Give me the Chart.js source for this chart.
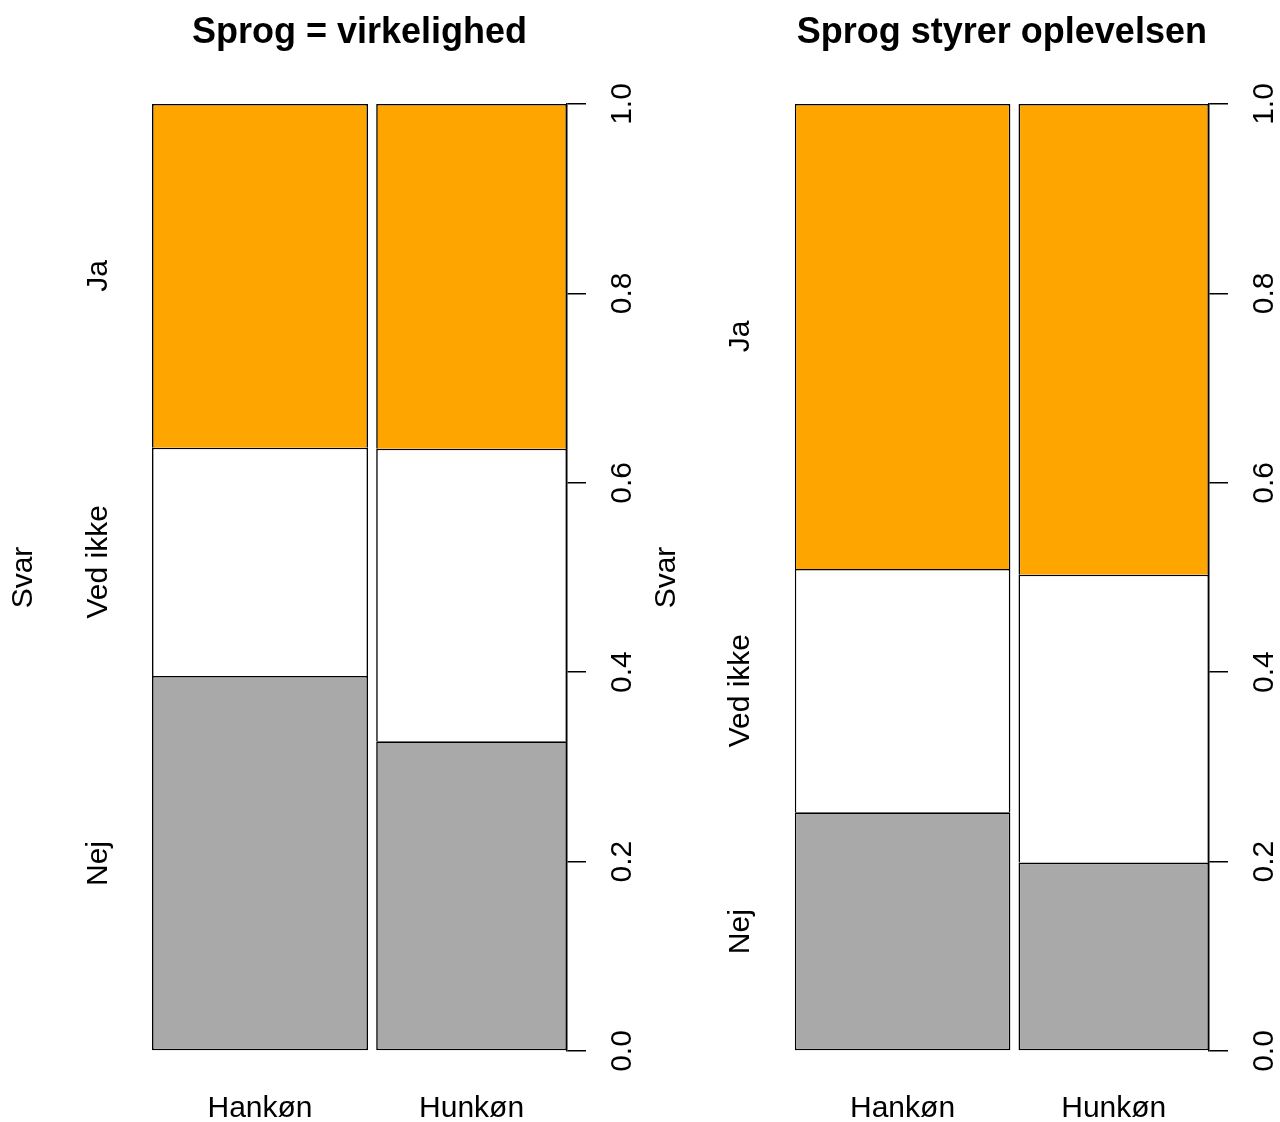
<!DOCTYPE html>
<html lang="da">
<head>
<meta charset="UTF-8">
<title>Sprog og virkelighed</title>
<script src="https://cdn.jsdelivr.net/npm/chart.js@4"></script>
<style>
  html, body { margin: 0; padding: 0; background: #fff; }
  .panel { position: absolute; top: 0; width: 640px; height: 1122px; }
</style>
</head>
<body>
<div class="panel" style="left:0"><canvas id="venstre" width="640" height="1122"></canvas></div>
<div class="panel" style="left:640px"><canvas id="hoejre" width="640" height="1122"></canvas></div>
<script>
const genders = ['Hankøn', 'Hunkøn'];
const answers = ['Nej', 'Ved ikke', 'Ja'];
const genderShare = [0.531, 0.469];   // bar widths (share of respondents)
const barGap = 0.02;
const yTicks = [0, 0.2, 0.4, 0.6, 0.8, 1.0];

// andel pr. svar, [Hankøn, Hunkøn]
const nejVirkelighed = [0.396, 0.327];
const vedIkkeVirkelighed = [0.241, 0.309];
const jaVirkelighed = [0.363, 0.364];

const nejOplevelse = [0.252, 0.199];
const vedIkkeOplevelse = [0.257, 0.304];
const jaOplevelse = [0.491, 0.497];

const colors = ['#A9A9A9', '#FFFFFF', '#FFA500'];
const FONT = "'Liberation Sans', Arial, Helvetica, sans-serif";
const tickFont = { family: FONT, size: 30 };

function makeChart(id, title, series, padLeft, rightWidth) {
    const centers = [genderShare[0] / 2, genderShare[0] + barGap + genderShare[1] / 2];
    const step = centers[1] - centers[0];

    const datasets = [];
    genders.forEach((g, gi) => {
        series.forEach((vals, si) => {
            datasets.push({
                label: answers[si] + ' ' + g,
                data: [{ x: centers[gi], y: vals[gi] }],
                backgroundColor: colors[si],
                borderColor: '#000',
                borderWidth: 1.6,
                borderSkipped: si === 0 ? false : 'start',
                barPercentage: genderShare[gi] / step,
                categoryPercentage: 1,
                grouped: false
            });
        });
    });

    // labels on the left sit in the middle of each segment of the first bar
    const mids = [];
    let acc = 0;
    series.forEach(vals => { mids.push(acc + vals[0] / 2); acc += vals[0]; });

    return new Chart(document.getElementById(id), {
        type: 'bar',
        data: { datasets },
        options: {
            responsive: false,
            animation: false,
            events: [],
            layout: { padding: { left: padLeft, right: 0, top: 0, bottom: 0 } },
            plugins: {
                legend: { display: false },
                tooltip: { enabled: false },
                title: {
                    display: true,
                    fullSize: false,
                    text: title,
                    color: '#000',
                    font: { family: FONT, size: 36, weight: 'bold' },
                    padding: { top: 11, bottom: 49.8 }
                }
            },
            scales: {
                x: {
                    type: 'linear',
                    min: 0,
                    max: 1 + barGap,
                    offset: false,
                    grid: { display: false, drawTicks: false },
                    border: { display: false },
                    afterBuildTicks: s => { s.ticks = centers.map(v => ({ value: v })); },
                    afterFit: s => { s.height = 71; },
                    ticks: {
                        callback: (v, i) => genders[i],
                        font: tickFont,
                        color: '#000',
                        padding: 40,
                        minRotation: 0,
                        maxRotation: 0,
                        autoSkip: false
                    }
                },
                y: {
                    position: 'right',
                    stacked: true,
                    min: 0,
                    max: 1,
                    afterBuildTicks: s => { s.ticks = yTicks.map(v => ({ value: v })); },
                    afterFit: s => { s.width = rightWidth; },
                    grid: { drawOnChartArea: false, drawTicks: true, tickLength: 19, color: '#000', lineWidth: 1.5 },
                    border: { display: true, color: '#000', width: 1.5 },
                    ticks: {
                        callback: v => v.toFixed(1),
                        font: tickFont,
                        color: '#000',
                        padding: 16,
                        minRotation: 90,
                        maxRotation: 90,
                        crossAlign: 'center',
                        autoSkip: false
                    }
                },
                y2: {
                    position: 'left',
                    min: 0,
                    max: 1,
                    afterBuildTicks: s => { s.ticks = mids.map(v => ({ value: v })); },
                    afterFit: s => { s.width = 152; },
                    grid: { display: false, drawTicks: false },
                    border: { display: false },
                    ticks: {
                        callback: (v, i) => answers[i],
                        font: tickFont,
                        color: '#000',
                        padding: -3,
                        minRotation: 90,
                        maxRotation: 90,
                        crossAlign: 'center',
                        autoSkip: false
                    },
                    title: {
                        display: true,
                        text: 'Svar',
                        color: '#000',
                        font: tickFont,
                        padding: { top: 6, bottom: 0 }
                    }
                }
            }
        }
    });
}

makeChart('venstre', 'Sprog = virkelighed', [nejVirkelighed, vedIkkeVirkelighed, jaVirkelighed], 0, 73);
makeChart('hoejre', 'Sprog styrer oplevelsen', [nejOplevelse, vedIkkeOplevelse, jaOplevelse], 2.7, 71);
</script>
</body>
</html>
